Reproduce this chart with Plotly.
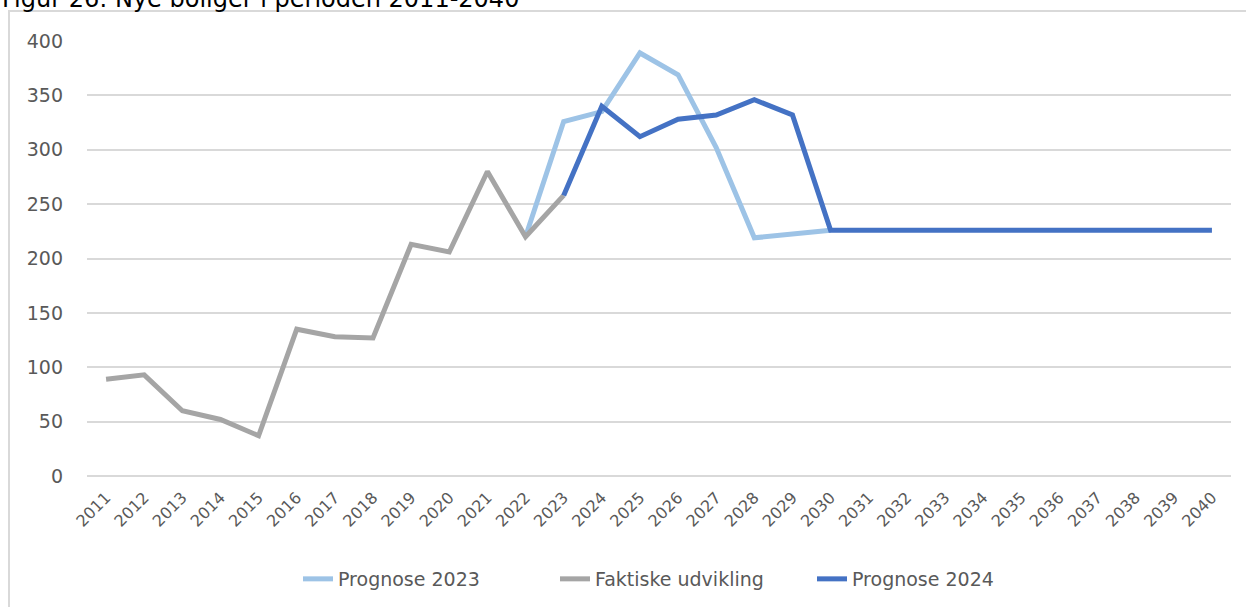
import plotly.graph_objects as go

years = [str(y) for y in range(2011, 2041)]

faktiske = [89, 93, 60, 52, 37, 135, 128, 127, 213, 206, 280, 220, 258] + [None] * 17
prognose_2023 = [None] * 11 + [220, 326, 335, 389, 369, 302, 219, 222, 226] + [None] * 10
prognose_2024 = [None] * 12 + [258, 340, 312, 328, 332, 346, 332] + [226] * 11

y_ticks = [0, 50, 100, 150, 200, 250, 300, 350, 400]

W, H = 1246, 607
L, R, T, B = 87, 15, 41, 131
PW, PH = W - L - R, H - T - B

def px_x(px):
    return (px - L) / PW

def px_y(py):
    return (H - B - py) / PH

FONT = "DejaVu Sans"
TXT = "#595959"

fig = go.Figure()
fig.add_trace(go.Scatter(x=years, y=prognose_2023, name="Prognose 2023", mode="lines",
                         line=dict(color="#9DC3E6", width=5), connectgaps=False))
fig.add_trace(go.Scatter(x=years, y=faktiske, name="Faktiske udvikling", mode="lines",
                         line=dict(color="#A5A5A5", width=5), connectgaps=False))
fig.add_trace(go.Scatter(x=years, y=prognose_2024, name="Prognose 2024", mode="lines",
                         line=dict(color="#4472C4", width=5), connectgaps=False))

fig.update_layout(
    width=W, height=H,
    margin=dict(l=L, r=R, t=T, b=B, autoexpand=False),
    paper_bgcolor="white", plot_bgcolor="white",
    font=dict(family=FONT, color=TXT),
    showlegend=True,
    legend=dict(orientation="h", x=px_x(298), xanchor="left", y=px_y(579), yanchor="middle",
                font=dict(family=FONT, size=19, color=TXT), bgcolor="rgba(0,0,0,0)",
                itemwidth=30, entrywidth=212, entrywidthmode="pixels"),
    xaxis=dict(type="category", range=[-0.5, 29.5], showgrid=False, zeroline=False,
               showline=False, ticks="outside", ticklen=5, tickcolor="rgba(0,0,0,0)",
               tickangle=-45,
               tickfont=dict(family=FONT, size=16, color=TXT)),
    yaxis=dict(range=[0, 400], tickvals=y_ticks, showgrid=True, gridcolor="#D9D9D9",
               gridwidth=1.5, zeroline=True, zerolinecolor="#D9D9D9", zerolinewidth=1.5,
               showline=False, ticks="", ticklabelstandoff=23,
               tickfont=dict(family=FONT, size=19, color=TXT)),
    shapes=[dict(type="rect", xref="paper", yref="paper",
                 x0=px_x(9), x1=px_x(1260), y0=px_y(620), y1=px_y(11),
                 line=dict(color="#D9D9D9", width=2), fillcolor="rgba(0,0,0,0)", layer="below")],
    annotations=[dict(text="Figur 26: Nye boliger i perioden 2011-2040", xref="paper", yref="paper",
                      x=px_x(0), xanchor="left", y=px_y(15), yanchor="bottom", showarrow=False,
                      font=dict(family=FONT, size=24, color="#000000"))],
)

fig.write_html("out.html", config={"displayModeBar": False},
               post_script="document.body.style.margin='0';document.body.style.padding='0';")
